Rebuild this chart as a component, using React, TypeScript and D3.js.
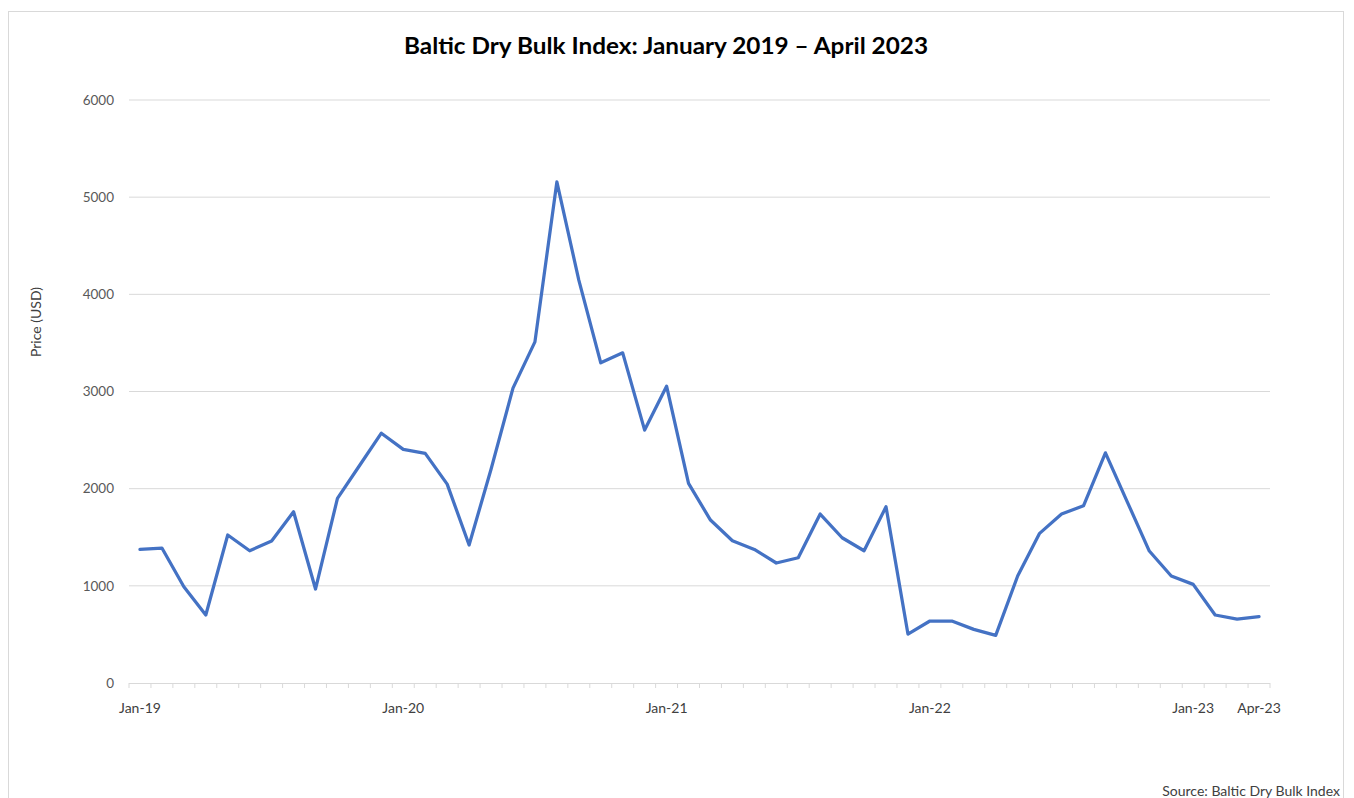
import React from "react";
import * as d3 from "d3";

// 52 monthly observations (Jan-19 .. Apr-23 as plotted)
const values: number[] = [
  1375, 1389, 991, 700, 1523, 1361, 1461, 1762, 967, 1900, 2236, 2571,
  2404, 2363, 2047, 1420, 2200, 3035, 3511, 5157, 4146, 3295, 3398, 2603,
  3055, 2054, 1677, 1464, 1375, 1235, 1289, 1739, 1495, 1361, 1814, 504,
  638, 638, 552, 490, 1101, 1540, 1739, 1824, 2369, 1862, 1358, 1101,
  1015, 700, 658, 682,
];

const categories: string[] = values.map((_, i) => `c${i}`);
const xLabels: { index: number; text: string }[] = [
  { index: 0, text: "Jan-19" },
  { index: 12, text: "Jan-20" },
  { index: 24, text: "Jan-21" },
  { index: 36, text: "Jan-22" },
  { index: 48, text: "Jan-23" },
  { index: 51, text: "Apr-23" },
];
const yTicks: number[] = [0, 1000, 2000, 3000, 4000, 5000, 6000];

const title = "Baltic Dry Bulk Index: January 2019 \u2013 April 2023";
const yTitle = "Price (USD)";
const source = "Source: Baltic Dry Bulk Index";

export default function App() {
  const W = 1354, H = 798;
  const left = 129, right = 1270, top = 100, bottom = 683;
  const font = "Lato, 'Open Sans', sans-serif";

  const x = d3.scaleBand<string>().domain(categories).range([left, right]).paddingInner(0).paddingOuter(0);
  const y = d3.scaleLinear().domain([0, 6000]).range([bottom, top]);
  const cx = (i: number) => (x(categories[i]) as number) + x.bandwidth() / 2;

  const line = d3.line<number>().x((_, i) => cx(i)).y((d) => y(d));
  const boundaries = d3.range(categories.length + 1).map((i) => left + i * x.bandwidth());

  return (
    <svg width={W} height={H} style={{ position: "absolute", left: 0, top: 0, background: "#fff" }} fontFamily={font}>
      <rect x={8.5} y={11.5} width={1335} height={800} fill="#fff" stroke="#d9d9d9" strokeWidth={1} />
      <text x={404} y={54} fontSize={22} fontWeight={700} fill="#000" textLength={524} lengthAdjust="spacingAndGlyphs">{title}</text>

      {yTicks.map((t) => (
        <g key={t}>
          {t > 0 && <line x1={left} x2={right} y1={y(t)} y2={y(t)} stroke="#d9d9d9" strokeWidth={1} />}
          <text x={114} y={y(t)} dy="0.35em" textAnchor="end" fontSize={13.5} fill="#595959">{t}</text>
        </g>
      ))}

      <line x1={left} x2={right} y1={bottom + 0.5} y2={bottom + 0.5} stroke="#d9d9d9" strokeWidth={1} />
      {boundaries.map((b, i) => (
        <line key={i} x1={b} x2={b} y1={bottom} y2={bottom + 5} stroke="#d9d9d9" strokeWidth={1} />
      ))}
      {xLabels.map((l) => (
        <text key={l.text} x={cx(l.index)} y={713} textAnchor="middle" fontSize={14} fill="#404040">{l.text}</text>
      ))}

      <text transform={`translate(41,322) rotate(-90)`} textAnchor="middle" fontSize={14} fill="#404040">{yTitle}</text>

      <path d={line(values) || ""} fill="none" stroke="#4472C4" strokeWidth={3.25} strokeLinejoin="round" strokeLinecap="round" />

      <text x={1340} y={796} textAnchor="end" fontSize={14} fill="#404040">{source}</text>
    </svg>
  );
}
